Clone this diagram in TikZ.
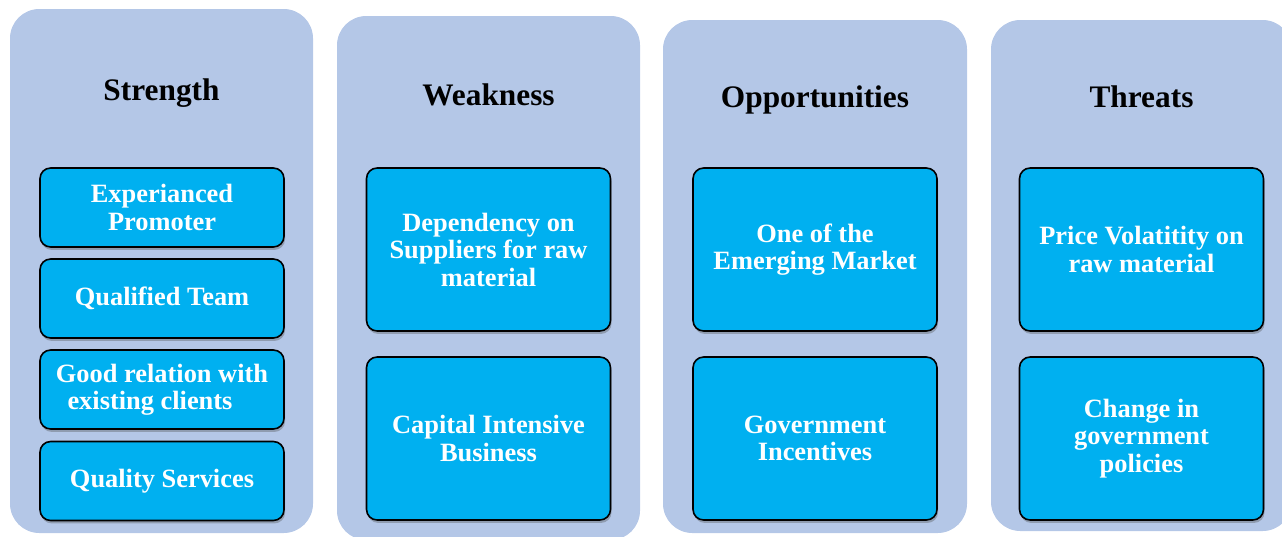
\documentclass[tikz,border=0pt]{standalone}
\usepackage{fontspec}
\setmainfont{Liberation Serif}
\usetikzlibrary{shadows}
\definecolor{panelblue}{HTML}{B4C7E7}
\definecolor{boxcyan}{HTML}{00B0F0}
\begin{document}
\begin{tikzpicture}[x=0.75pt,y=-0.75pt,
    panel/.style={fill=panelblue,rounded corners=22pt},
    head/.style={anchor=base,font=\bfseries\fontsize{23.5}{26}\selectfont},
    item/.style={draw,line width=1.2pt,fill=boxcyan,rounded corners=8pt,minimum width=183pt,align=center,text=white,
        font=\bfseries\fontsize{19.8}{20.6}\selectfont,
        drop shadow={shadow xshift=0.8pt,shadow yshift=-2.2pt,opacity=0.35,fill=black!70}},
    smallbox/.style={item,minimum height=59.25pt},
    bigbox/.style={item,minimum height=122.25pt}]
        \useasboundingbox (0,0) rectangle (1282,536);
        %% Panels
        \fill[panel] (10,9) rectangle (313,533);
        \fill[panel] (337,16) rectangle (640,540);
        \fill[panel] (663,20) rectangle (967,533);
        \fill[panel] (991,20) rectangle (1292,531);
        %% Headings
        \node[head] (st) at (161.5,100) {Strength};
        \node[head] (wk) at (488.5,105) {Weakness};
        \node[head] (op) at (815,107) {Opportunities};
        \node[head] (th) at (1141.5,107.5) {Threats};
        %% Strength
        \node[smallbox] (s1) at (162,207.5) {Experianced\\Promoter};
        \node[smallbox] (s2) at (162,298.5) {Qualified Team};
        \node[smallbox] (s3) at (162,389.5) {Good relation with\\existing clients\hspace*{18pt}};
        \node[smallbox] (s4) at (162,481) {Quality Services};
        %% Weakness
        \node[bigbox] (w1) at (488.5,249.5) {Dependency on\\Suppliers for raw\\material};
        \node[bigbox] (w2) at (488.5,438.5) {Capital Intensive\\Business};
        %% Opportunities
        \node[bigbox] (o1) at (815,249.5) {One of the\\Emerging Market};
        \node[bigbox] (o2) at (815,438.5) {Government\\Incentives};
        %% Threats
        \node[bigbox] (t1) at (1141.5,249.5) {Price Volatitity on\\raw material};
        \node[bigbox] (t2) at (1141.5,438.5) {Change in\\government\\policies};
    \end{tikzpicture}
\end{document}
